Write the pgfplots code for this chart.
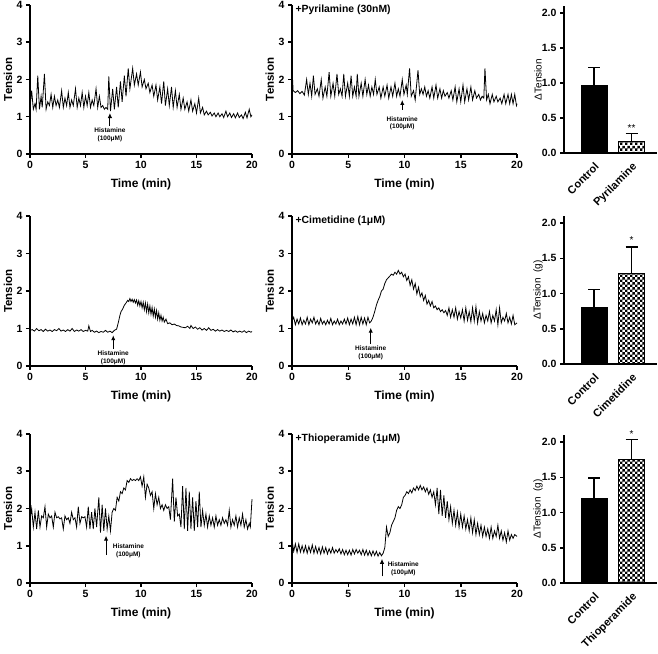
\documentclass[border=0pt]{standalone}
\usepackage{fontspec}
\setmainfont{Liberation Sans}
\usepackage{pgfplots}
\pgfplotsset{compat=1.18}
\usetikzlibrary{arrows.meta,patterns}
\pgfdeclarepatternformonly{mychecker}{\pgfpointorigin}{\pgfqpoint{5.4pt}{5.4pt}}{\pgfqpoint{5.4pt}{5.4pt}}{%
  \pgfpathrectangle{\pgfpointorigin}{\pgfqpoint{2.7pt}{2.7pt}}%
  \pgfpathrectangle{\pgfqpoint{2.7pt}{2.7pt}}{\pgfqpoint{2.7pt}{2.7pt}}%
  \pgfusepath{fill}}
\pgfplotsset{
 prism/.style={scale only axis, axis x line*=bottom, axis y line*=left,
   axis line style={line width=1.5pt,-}, tick align=outside, major tick length=4pt,
   every tick/.style={black, line width=1.5pt},
   tick label style={font=\bfseries\fontsize{10.5}{12}\selectfont},
   /pgf/number format/assume math mode=true, clip=false},
 trace/.style={prism, width=222pt, height=149pt, xmin=0, xmax=20, ymin=0, ymax=4,
   xtick={0,5,10,15,20}, ytick={0,1,2,3,4}, xlabel={Time (min)}, ylabel={Tension},
   every axis y label/.style={at={(axis description cs:-0.099,0.5)},rotate=90,anchor=center,font=\bfseries\fontsize{11.5}{13}\selectfont},
   every axis x label/.style={at={(axis description cs:0.5,-0.205)},anchor=center,font=\bfseries\fontsize{12}{14}\selectfont}},
 barp/.style={prism, width=93pt, height=148pt, xmin=0.2, xmax=2.68, ymin=0, ymax=2.1,
   ytick={0,0.5,1,1.5,2},
   yticklabel style={/pgf/number format/.cd,fixed,fixed zerofill,precision=1},
   xtick={1,2}, xtick style={draw=none},
   xticklabel style={rotate=45, anchor=north east, font=\bfseries\fontsize{11}{12}\selectfont},
   every axis y label/.style={at={(axis description cs:-0.28,0.5)},rotate=90,anchor=center,font=\fontsize{10}{12}\selectfont}},
 tr/.style={black, line width=0.8pt, no markers},
 ctrlbar/.style={ybar, bar width=26pt, bar shift=0pt, fill=black, draw=black, line width=1pt,
   error bars/.cd, y dir=plus, y explicit,
   error bar style={line width=1.4pt, black},
   error mark options={rotate=90, mark size=6pt, line width=1.4pt, black}},
 drugbar/.style={ybar, bar width=26pt, bar shift=0pt, pattern=mychecker, draw=black, line width=1.2pt,
   error bars/.cd, y dir=plus, y explicit,
   error bar style={line width=1.4pt, black},
   error mark options={rotate=90, mark size=6pt, line width=1.4pt, black}},
}
\newcommand{\histfont}{\bfseries\fontsize{6.5}{7.5}\selectfont}
\newcommand{\drugfont}{\bfseries\fontsize{10.4}{12}\selectfont}
\begin{document}
\begin{tikzpicture}
\path[use as bounding box] (0pt,0pt) rectangle (658pt,653pt);

% ---------- Row 1 ----------
\begin{axis}[trace, at={(30pt,499pt)}, anchor=south west]
\addplot[tr] coordinates {(0,1.25)(0.15,1.7)(0.3,1.2)(0.45,1.35)(0.55,1.2)(0.7,2.1)(0.85,1.2)(1.0,1.55)(1.1,1.25)(1.3,2.15)(1.45,1.2)(1.6,1.4)(1.75,1.3)(1.9,1.6)(2.05,1.25)(2.2,1.55)(2.35,1.3)(2.5,1.45)(2.65,1.25)(2.85,1.7)(3.0,1.25)(3.15,1.5)(3.3,1.3)(3.45,1.65)(3.6,1.25)(3.75,1.45)(3.9,1.3)(4.1,1.75)(4.25,1.25)(4.4,1.5)(4.55,1.3)(4.7,1.65)(4.85,1.25)(5.0,1.55)(5.15,1.3)(5.3,1.65)(5.45,1.25)(5.6,1.45)(5.75,1.3)(5.95,1.75)(6.1,1.25)(6.25,1.55)(6.4,1.25)(6.55,1.3)(6.7,1.2)(6.85,1.25)(7.0,1.2)(7.1,2.08)(7.25,1.15)(7.45,1.75)(7.6,1.2)(7.8,1.8)(7.95,1.25)(8.15,1.95)(8.3,1.4)(8.5,2.1)(8.65,1.55)(8.85,2.3)(9.0,1.75)(9.25,2.3)(9.4,1.85)(9.6,2.15)(9.75,1.85)(9.95,2.2)(10.1,1.8)(10.3,2.0)(10.45,1.75)(10.65,1.9)(10.8,1.65)(11.0,1.85)(11.15,1.55)(11.35,1.85)(11.5,1.45)(11.7,1.8)(11.85,1.35)(12.05,1.95)(12.2,1.3)(12.4,1.75)(12.55,1.3)(12.75,1.8)(12.9,1.25)(13.1,1.7)(13.25,1.25)(13.45,1.6)(13.6,1.2)(13.8,1.5)(13.95,1.2)(14.15,1.4)(14.3,1.15)(14.5,1.45)(14.65,1.15)(14.85,1.35)(15.0,1.1)(15.2,1.5)(15.35,1.1)(15.55,1.25)(15.7,1.05)(15.9,1.15)(16.05,1.05)(16.25,1.12)(16.4,1.02)(16.6,1.1)(16.75,1.0)(16.95,1.1)(17.1,1.0)(17.3,1.08)(17.45,0.98)(17.65,1.15)(17.8,1.0)(18.0,1.1)(18.15,0.98)(18.35,1.08)(18.5,0.97)(18.7,1.1)(18.85,0.98)(19.05,1.05)(19.2,0.95)(19.4,1.12)(19.55,0.97)(19.75,1.2)(19.9,1.0)(20,1.05)};
\draw[line width=1pt,-{Latex[length=5pt,width=4.5pt]}] (axis cs:7.2,0.75) -- (axis cs:7.2,1.1);
\node[font=\histfont, align=center, anchor=north, inner sep=0.5pt] at (axis cs:7.2,0.72) {Histamine\\(100μM)};
\end{axis}

\begin{axis}[trace, width=225pt, at={(292pt,499pt)}, anchor=south west]
\addplot[tr] coordinates {(0,2.3)(0.1,1.7)(0.3,1.65)(0.5,1.7)(0.7,1.62)(0.9,1.68)(1.1,1.58)(1.3,2.0)(1.45,1.6)(1.6,1.9)(1.75,1.55)(1.9,2.1)(2.05,1.6)(2.25,1.75)(2.4,1.55)(2.6,2.0)(2.75,1.5)(2.95,1.8)(3.1,1.55)(3.3,2.2)(3.45,1.55)(3.65,1.9)(3.8,1.55)(4.0,2.15)(4.15,1.6)(4.3,1.75)(4.45,1.55)(4.6,2.15)(4.75,1.55)(4.95,1.9)(5.1,1.55)(5.25,2.1)(5.4,1.55)(5.55,1.8)(5.7,1.55)(5.8,2.15)(5.95,1.55)(6.15,1.9)(6.3,1.55)(6.5,2.0)(6.65,1.6)(6.8,1.85)(6.95,1.55)(7.1,1.8)(7.25,1.6)(7.4,2.0)(7.55,1.6)(7.75,1.8)(7.9,1.5)(8.1,1.8)(8.25,1.55)(8.45,1.85)(8.6,1.5)(8.8,1.8)(8.95,1.55)(9.15,1.9)(9.3,1.55)(9.45,1.75)(9.6,1.55)(9.8,2.0)(9.95,1.6)(10.15,1.85)(10.25,1.6)(10.45,2.3)(10.6,1.55)(10.8,1.7)(10.95,1.45)(11.2,2.25)(11.35,1.6)(11.5,1.75)(11.65,1.6)(11.8,1.8)(11.95,1.55)(12.1,1.7)(12.25,1.5)(12.45,1.8)(12.6,1.5)(12.8,1.85)(12.95,1.5)(13.15,1.75)(13.3,1.5)(13.45,1.7)(13.6,1.55)(13.8,1.65)(13.95,1.5)(14.15,1.7)(14.3,1.45)(14.5,1.8)(14.65,1.4)(14.85,1.75)(15.0,1.4)(15.2,1.85)(15.35,1.4)(15.55,1.75)(15.7,1.45)(15.9,1.8)(16.05,1.45)(16.25,1.7)(16.4,1.5)(16.6,1.6)(16.75,1.45)(16.9,1.55)(17.05,1.5)(17.15,2.3)(17.3,1.45)(17.45,1.6)(17.6,1.35)(17.8,1.6)(17.95,1.4)(18.15,1.55)(18.3,1.4)(18.5,1.5)(18.65,1.35)(18.85,1.6)(19.0,1.35)(19.2,1.6)(19.35,1.35)(19.5,1.6)(19.65,1.35)(19.8,1.6)(19.95,1.3)(20,1.35)};
\draw[line width=1pt,-{Latex[length=5pt,width=4.5pt]}] (axis cs:9.8,1.19) -- (axis cs:9.8,1.45);
\node[font=\histfont, align=center, anchor=north, inner sep=0.5pt] at (axis cs:9.8,1.02) {Histamine\\(100μM)};
\node[font=\drugfont, anchor=west, inner sep=0pt] at (axis cs:0.3,3.86) {+Pyrilamine (30nM)};
\end{axis}

\begin{axis}[barp, at={(564pt,500pt)}, anchor=south west, height=147pt, xticklabels={Control,Pyrilamine}, ylabel={ΔTension}]
\addplot[ctrlbar] coordinates {(1,0.97) +- (0,0.25)};
\addplot[drugbar] coordinates {(2,0.16) +- (0,0.12)};
\node[font=\fontsize{10}{12}\selectfont] at (axis cs:2,0.36) {**};
\end{axis}

% ---------- Row 2 ----------
\begin{axis}[trace, height=150pt, at={(30pt,287pt)}, anchor=south west]
\addplot[tr] coordinates {(0,0.95)(0.2,0.97)(0.4,0.93)(0.6,1.0)(0.8,0.94)(1.0,0.97)(1.2,0.92)(1.4,0.98)(1.6,0.93)(1.8,0.96)(2.0,0.92)(2.2,0.97)(2.4,0.94)(2.6,1.0)(2.8,0.93)(3.0,0.96)(3.2,0.92)(3.4,0.97)(3.6,0.93)(3.8,1.0)(4.0,0.92)(4.2,0.96)(4.4,0.93)(4.6,0.97)(4.8,0.92)(5.0,0.95)(5.2,0.93)(5.3,1.07)(5.45,0.92)(5.6,0.95)(5.8,0.9)(6.0,0.93)(6.2,0.89)(6.4,0.92)(6.6,0.9)(6.8,0.95)(7.0,0.9)(7.2,0.93)(7.4,0.89)(7.6,0.95)(7.8,0.98)(7.95,1.15)(8.1,1.35)(8.2,1.45)(8.35,1.52)(8.5,1.62)(8.65,1.68)(8.8,1.75)(8.9,1.72)(9.0,1.8)(9.1,1.72)(9.2,1.78)(9.3,1.7)(9.4,1.77)(9.5,1.68)(9.6,1.76)(9.7,1.62)(9.8,1.74)(9.9,1.6)(10.0,1.72)(10.1,1.55)(10.2,1.7)(10.3,1.5)(10.4,1.68)(10.5,1.45)(10.6,1.65)(10.7,1.42)(10.8,1.6)(10.9,1.38)(11.0,1.56)(11.1,1.33)(11.2,1.52)(11.3,1.3)(11.4,1.48)(11.5,1.25)(11.6,1.42)(11.7,1.22)(11.8,1.35)(11.9,1.2)(12.0,1.3)(12.1,1.17)(12.25,1.25)(12.4,1.13)(12.6,1.15)(12.8,1.1)(13.0,1.12)(13.2,1.08)(13.4,1.07)(13.6,1.04)(13.8,1.03)(14.0,1.02)(14.2,1.06)(14.4,1.0)(14.5,1.08)(14.7,1.0)(14.9,1.04)(15.1,0.98)(15.3,1.02)(15.5,0.96)(15.7,1.0)(15.9,0.95)(16.1,1.02)(16.3,0.95)(16.5,0.98)(16.7,0.93)(16.9,0.97)(17.1,0.93)(17.3,0.96)(17.5,0.92)(17.7,0.95)(17.9,0.92)(18.1,0.96)(18.3,0.91)(18.5,0.94)(18.7,0.9)(18.9,0.93)(19.1,0.9)(19.3,0.94)(19.5,0.89)(19.7,0.93)(19.9,0.9)(20,0.92)};
\draw[line width=1pt,-{Latex[length=5pt,width=4.5pt]}] (axis cs:7.5,0.45) -- (axis cs:7.5,0.82);
\node[font=\histfont, align=center, anchor=north, inner sep=0.5pt] at (axis cs:7.5,0.42) {Histamine\\(100μM)};
\end{axis}

\begin{axis}[trace, width=225pt, height=150pt, at={(292pt,287pt)}, anchor=south west]
\addplot[tr] coordinates {(0,1.2)(0.15,1.3)(0.3,1.1)(0.45,1.25)(0.6,1.12)(0.75,1.28)(0.9,1.1)(1.05,1.22)(1.2,1.12)(1.35,1.3)(1.5,1.1)(1.65,1.25)(1.8,1.15)(1.95,1.3)(2.1,1.12)(2.25,1.22)(2.4,1.1)(2.55,1.27)(2.7,1.12)(2.85,1.2)(3.0,1.1)(3.15,1.22)(3.3,1.12)(3.45,1.27)(3.6,1.1)(3.75,1.2)(3.9,1.12)(4.05,1.25)(4.2,1.1)(4.35,1.2)(4.5,1.12)(4.65,1.25)(4.8,1.12)(4.95,1.28)(5.1,1.1)(5.25,1.25)(5.4,1.12)(5.55,1.3)(5.7,1.1)(5.85,1.32)(6.0,1.1)(6.15,1.3)(6.3,1.12)(6.45,1.28)(6.6,1.1)(6.75,1.3)(6.9,1.15)(7.05,1.2)(7.2,1.3)(7.35,1.45)(7.5,1.62)(7.65,1.75)(7.8,1.85)(7.95,2.0)(8.1,2.05)(8.25,2.2)(8.4,2.3)(8.55,2.35)(8.7,2.4)(8.85,2.45)(9.0,2.42)(9.15,2.5)(9.3,2.45)(9.45,2.55)(9.6,2.45)(9.75,2.5)(9.9,2.38)(10.05,2.45)(10.2,2.28)(10.35,2.38)(10.5,2.15)(10.65,2.3)(10.8,2.05)(10.95,2.2)(11.1,1.92)(11.25,2.1)(11.4,1.85)(11.55,1.95)(11.7,1.75)(11.85,1.88)(12.0,1.65)(12.15,1.75)(12.3,1.6)(12.45,1.72)(12.6,1.55)(12.75,1.6)(12.9,1.5)(13.05,1.55)(13.2,1.45)(13.35,1.5)(13.5,1.42)(13.65,1.48)(13.8,1.35)(13.95,1.55)(14.1,1.3)(14.25,1.5)(14.4,1.3)(14.55,1.55)(14.7,1.25)(14.85,1.45)(15.0,1.28)(15.15,1.5)(15.3,1.2)(15.45,1.55)(15.6,1.22)(15.75,1.45)(15.9,1.18)(16.05,1.55)(16.2,1.2)(16.35,1.58)(16.5,1.15)(16.65,1.45)(16.8,1.2)(16.95,1.4)(17.1,1.15)(17.25,1.35)(17.4,1.2)(17.55,1.45)(17.7,1.15)(17.85,1.35)(18.0,1.2)(18.15,1.5)(18.3,1.1)(18.45,1.55)(18.6,1.15)(18.75,1.3)(18.9,1.2)(19.05,1.4)(19.2,1.15)(19.35,1.3)(19.5,1.12)(19.65,1.35)(19.8,1.1)(20,1.15)};
\draw[line width=1pt,-{Latex[length=5pt,width=4.5pt]}] (axis cs:7.0,0.58) -- (axis cs:7.0,1.02);
\node[font=\histfont, align=center, anchor=north, inner sep=0.5pt] at (axis cs:7.0,0.55) {Histamine\\(100μM)};
\node[font=\drugfont, anchor=west, inner sep=0pt] at (axis cs:0.3,3.86) {+Cimetidine (1μM)};
\end{axis}

\begin{axis}[barp, at={(564pt,289pt)}, anchor=south west, xticklabels={Control,Cimetidine}, ylabel={ΔTension\ \ (g)}]
\addplot[ctrlbar] coordinates {(1,0.80) +- (0,0.26)};
\addplot[drugbar] coordinates {(2,1.28) +- (0,0.38)};
\node[font=\fontsize{10}{12}\selectfont] at (axis cs:2,1.76) {*};
\end{axis}

% ---------- Row 3 ----------
\begin{axis}[trace, at={(30pt,70pt)}, anchor=south west]
\addplot[tr] coordinates {(0,1.7)(0.15,2.0)(0.3,1.5)(0.45,1.9)(0.6,1.45)(0.75,1.95)(0.9,1.5)(1.05,1.8)(1.2,1.75)(1.35,2.05)(1.5,1.5)(1.65,1.85)(1.8,1.75)(1.95,1.8)(2.1,1.5)(2.25,1.9)(2.4,1.75)(2.55,1.78)(2.7,1.72)(2.85,1.75)(3.0,1.45)(3.15,1.8)(3.3,1.7)(3.45,1.75)(3.6,1.6)(3.75,1.9)(3.9,1.7)(4.05,1.75)(4.2,1.5)(4.35,2.05)(4.5,1.6)(4.65,1.78)(4.8,1.75)(4.95,1.78)(5.1,1.5)(5.25,2.05)(5.4,1.45)(5.55,1.9)(5.7,1.45)(5.85,2.0)(6.0,1.5)(6.2,2.3)(6.35,1.35)(6.5,2.1)(6.65,1.4)(6.8,2.0)(6.95,1.45)(7.1,1.8)(7.25,1.4)(7.4,1.9)(7.55,2.0)(7.7,1.95)(7.85,2.3)(8.0,2.2)(8.15,2.45)(8.3,2.4)(8.45,2.55)(8.6,2.5)(8.75,2.75)(8.9,2.7)(9.05,2.8)(9.2,2.75)(9.35,2.78)(9.5,2.75)(9.65,2.8)(9.8,2.75)(9.95,2.85)(10.1,2.6)(10.25,2.85)(10.4,2.3)(10.55,2.65)(10.7,2.55)(10.85,2.35)(11.0,2.45)(11.15,2.0)(11.3,2.4)(11.45,2.1)(11.6,2.3)(11.75,2.0)(11.9,2.1)(12.05,1.95)(12.2,2.1)(12.35,2.0)(12.5,2.05)(12.65,1.7)(12.85,2.8)(13.0,1.65)(13.15,2.3)(13.3,1.8)(13.45,1.85)(13.6,1.5)(13.75,2.6)(13.9,1.45)(14.05,2.55)(14.2,1.4)(14.35,2.45)(14.5,1.45)(14.65,2.3)(14.8,1.4)(14.95,2.2)(15.1,1.5)(15.25,2.45)(15.4,1.5)(15.55,1.95)(15.7,1.55)(15.85,1.85)(16.0,1.5)(16.15,1.8)(16.3,1.55)(16.45,1.75)(16.6,1.5)(16.75,1.8)(16.9,1.55)(17.05,1.7)(17.2,1.55)(17.35,1.75)(17.5,1.6)(17.65,1.7)(17.8,1.55)(17.95,1.95)(18.1,1.5)(18.25,1.7)(18.4,1.55)(18.55,1.8)(18.7,1.5)(18.85,1.75)(19.0,1.55)(19.15,1.85)(19.3,1.5)(19.45,1.7)(19.6,1.45)(19.75,1.6)(19.85,1.5)(20,2.25)};
\draw[line width=1pt,-{Latex[length=5pt,width=4.5pt]}] (axis cs:6.85,0.75) -- (axis cs:6.85,1.27);
\node[font=\histfont, align=center, anchor=west, inner sep=0.5pt] at (axis cs:7.4,0.86) {Histamine\\(100μM)};
\end{axis}

\begin{axis}[trace, width=225pt, at={(292pt,70pt)}, anchor=south west]
\addplot[tr] coordinates {(0,1.15)(0.15,0.85)(0.3,1.05)(0.45,0.82)(0.6,1.05)(0.75,0.83)(0.9,1.0)(1.05,0.82)(1.2,1.0)(1.35,0.8)(1.5,0.98)(1.65,0.82)(1.8,1.02)(1.95,0.8)(2.1,0.98)(2.25,0.8)(2.4,0.95)(2.55,0.78)(2.7,0.97)(2.85,0.8)(3.0,0.95)(3.15,0.78)(3.3,0.92)(3.45,0.8)(3.6,0.95)(3.75,0.8)(3.9,0.9)(4.05,0.82)(4.2,0.92)(4.35,0.78)(4.5,0.9)(4.65,0.76)(4.8,0.88)(4.95,0.76)(5.1,0.88)(5.25,0.75)(5.4,0.9)(5.55,0.78)(5.7,0.9)(5.85,0.8)(6.0,0.88)(6.15,0.76)(6.3,0.9)(6.45,0.75)(6.6,0.88)(6.75,0.74)(6.9,0.86)(7.05,0.73)(7.2,0.86)(7.35,0.74)(7.5,0.85)(7.65,0.72)(7.8,0.82)(7.95,0.73)(8.1,0.8)(8.25,0.95)(8.4,1.5)(8.55,1.25)(8.7,1.35)(8.85,1.55)(9.0,1.65)(9.15,1.75)(9.3,1.95)(9.45,2.05)(9.6,2.0)(9.75,2.1)(9.9,2.3)(10.05,2.35)(10.2,2.45)(10.35,2.4)(10.5,2.5)(10.65,2.42)(10.8,2.55)(10.95,2.48)(11.1,2.6)(11.25,2.5)(11.4,2.62)(11.55,2.5)(11.7,2.58)(11.85,2.45)(12.0,2.55)(12.15,2.38)(12.3,2.5)(12.45,2.3)(12.6,2.45)(12.75,2.1)(12.9,2.55)(13.05,1.85)(13.2,2.5)(13.35,1.8)(13.5,2.35)(13.65,1.75)(13.8,2.2)(13.95,1.7)(14.1,2.05)(14.25,1.6)(14.4,1.95)(14.55,1.55)(14.7,1.9)(14.85,1.5)(15.0,1.85)(15.15,1.5)(15.3,1.8)(15.45,1.45)(15.6,1.7)(15.75,1.4)(15.9,1.75)(16.05,1.35)(16.2,1.7)(16.35,1.3)(16.5,1.6)(16.65,1.3)(16.8,1.55)(16.95,1.25)(17.1,1.5)(17.25,1.25)(17.4,1.45)(17.55,1.2)(17.7,1.5)(17.85,1.2)(18.0,1.4)(18.15,1.25)(18.3,1.55)(18.45,1.2)(18.6,1.4)(18.75,1.15)(18.9,1.35)(19.05,1.1)(19.2,1.4)(19.35,1.15)(19.5,1.3)(19.65,1.2)(19.8,1.3)(20,1.25)};
\draw[line width=1pt,-{Latex[length=5pt,width=4.5pt]}] (axis cs:8.0,0.18) -- (axis cs:8.0,0.65);
\node[font=\histfont, align=center, anchor=west, inner sep=0.5pt] at (axis cs:8.45,0.38) {Histamine\\(100μM)};
\node[font=\drugfont, anchor=west, inner sep=0pt] at (axis cs:0.3,3.86) {+Thioperamide (1μM)};
\end{axis}

\begin{axis}[barp, at={(564pt,70pt)}, anchor=south west, xticklabels={Control,Thioperamide}, ylabel={ΔTension\ \ (g)}]
\addplot[ctrlbar] coordinates {(1,1.20) +- (0,0.29)};
\addplot[drugbar] coordinates {(2,1.75) +- (0,0.29)};
\node[font=\fontsize{10}{12}\selectfont] at (axis cs:2,2.12) {*};
\end{axis}
\end{tikzpicture}
\end{document}
